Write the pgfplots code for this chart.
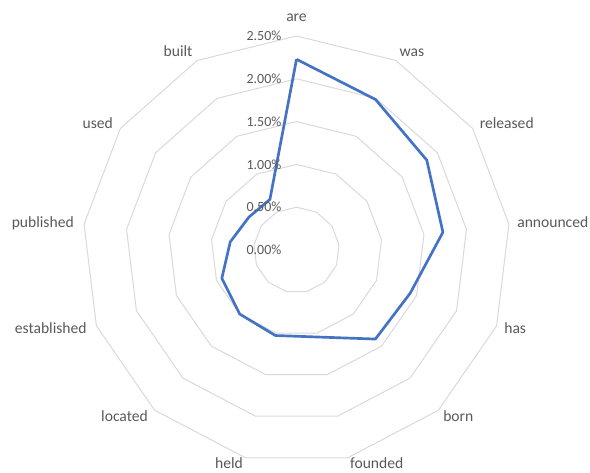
\documentclass[border=0pt]{standalone}
\usepackage{pgfplots}
\pgfplotsset{compat=1.18}
\usepackage{pgfplotstable}
\usepackage{fontspec}
\setmainfont{Carlito}
\definecolor{gridc}{HTML}{D9D9D9}
\definecolor{txtc}{HTML}{595959}
\definecolor{linec}{HTML}{4472C4}
\pgfplotstableread{
angle value
90 2.228
62.3077 1.986
34.6154 1.849
6.9231 1.723
-20.7692 1.421
-48.4615 1.390
-76.1538 1.047
-103.8462 1.029
-131.5385 1.000
-159.2308 0.933
-186.9231 0.780
-214.6154 0.676
-242.3077 0.668
-270 2.228
}\data
\newcommand{\lab}{\fontsize{11.7}{14}\selectfont}
\newcommand{\tik}{\fontsize{10.5}{12.6}\selectfont}
\begin{document}
\begin{tikzpicture}
\begin{axis}[
  hide axis, clip=false,
  x=64.2pt, y=64.2pt,
  xmin=-3.4638, xmax=3.4287, ymin=-2.5935, ymax=2.9206,
]
\foreach \r in {0.5,1.0,1.5,2.0,2.5}{
  \addplot[gridc, line width=0.75pt, line join=round, data cs=polar, no markers] table[x=angle, y expr=\r]{\data};
}
\addplot[linec, line width=2pt, line join=round, data cs=polar, no markers] table[x=angle, y=value]{\data};
% tick labels
\foreach \v/\t in {0/0.00\%,0.5/0.50\%,1.0/1.00\%,1.5/1.50\%,2.0/2.00\%,2.5/2.50\%}{
  \edef\temp{\noexpand\node[anchor=east, text=txtc, font=\noexpand\tik, inner sep=0pt] at (axis cs:-0.173,\v) {\t};}
  \temp
}
% category labels
\node[anchor=base, text=txtc, font=\lab, inner sep=0pt] at (axis cs:0,2.667) {are};
\node[anchor=base, text=txtc, font=\lab, inner sep=0pt] at (axis cs:1.349,2.255) {was};
\node[anchor=base, text=txtc, font=\lab, inner sep=0pt] at (axis cs:2.456,1.419) {released};
\node[anchor=base, text=txtc, font=\lab, inner sep=0pt] at (axis cs:2.994,0.263) {announced};
\node[anchor=base, text=txtc, font=\lab, inner sep=0pt] at (axis cs:2.555,-0.981) {has};
\node[anchor=base, text=txtc, font=\lab, inner sep=0pt] at (axis cs:1.890,-2.009) {born};
\node[anchor=base, text=txtc, font=\lab, inner sep=0pt] at (axis cs:0.937,-2.556) {founded};
\node[anchor=base, text=txtc, font=\lab, inner sep=0pt] at (axis cs:-0.789,-2.556) {held};
\node[anchor=base, text=txtc, font=\lab, inner sep=0pt] at (axis cs:-2.009,-2.009) {located};
\node[anchor=base, text=txtc, font=\lab, inner sep=0pt] at (axis cs:-2.871,-0.981) {established};
\node[anchor=base, text=txtc, font=\lab, inner sep=0pt] at (axis cs:-2.964,0.263) {published};
\node[anchor=base, text=txtc, font=\lab, inner sep=0pt] at (axis cs:-2.322,1.419) {used};
\node[anchor=base, text=txtc, font=\lab, inner sep=0pt] at (axis cs:-1.384,2.255) {built};
\coordinate (SW) at (axis cs:-3.4638,-2.5935);
\coordinate (NE) at (axis cs:3.4287,2.9206);
\end{axis}
\pgfresetboundingbox
\path (SW) rectangle (NE);
\end{tikzpicture}
\end{document}
